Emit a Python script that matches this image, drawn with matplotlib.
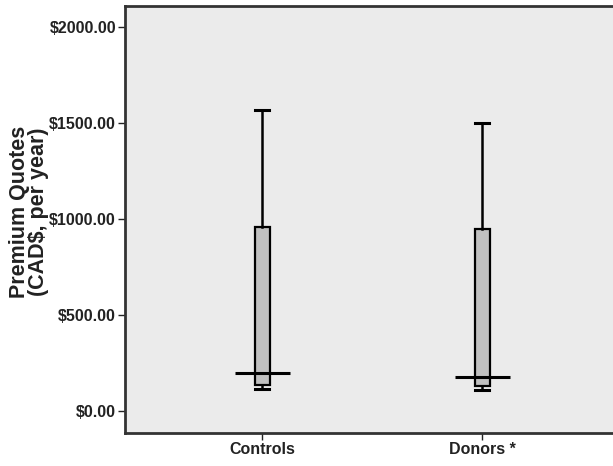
import matplotlib
matplotlib.use("Agg")
import matplotlib.pyplot as plt
from matplotlib.ticker import FuncFormatter

plt.rcParams['font.family'] = ['Liberation Sans', 'DejaVu Sans']
plt.rcParams['font.weight'] = 'bold'

groups = ['Controls', 'Donors *']
whislo = [115, 110]
q1 = [135, 130]
med = [198, 178]
q3 = [960, 950]
whishi = [1568, 1500]

stats = []
for i, g in enumerate(groups):
    stats.append(dict(label=g, whislo=whislo[i], q1=q1[i], med=med[i],
                      q3=q3[i], whishi=whishi[i], fliers=[]))

fig = plt.figure(figsize=(6.13, 4.66), dpi=100)
ax = fig.add_axes([0.204, 0.071, 0.806, 0.916])
ax.set_facecolor('#ebebeb')

pos = [1, 2]
ax.bxp(stats, positions=pos, widths=0.068, showfliers=False, patch_artist=True,
       boxprops=dict(facecolor='#c0c0c0', edgecolor='black', linewidth=1.6),
       whiskerprops=dict(color='black', linewidth=1.8),
       capprops=dict(color='black', linewidth=2.2),
       medianprops=dict(color='black', linewidth=0),
       capwidths=0.065)
ax.hlines(med, [p - 0.125 for p in pos], [p + 0.125 for p in pos],
          colors='black', linewidth=2.2, zorder=5)

ax.set_xlim(0.3773, 2.6227)
ax.set_ylim(-115, 2110)
ax.set_yticks([0, 500, 1000, 1500, 2000])
ax.yaxis.set_major_formatter(FuncFormatter(lambda v, p: '${:.2f}'.format(v)))
ax.set_xticks(pos)
ax.set_xticklabels(groups)
ax.tick_params(axis='both', direction='out', length=5, width=1, labelsize=11.5,
               colors='#222222', pad=1.5)
for s in ax.spines.values():
    s.set_linewidth(2)
    s.set_color('#333333')

fig.text(0.047, 0.545, 'Premium Quotes\n(CAD$, per year)', rotation=90,
         fontsize=15.5, fontweight='bold', linespacing=0.85, color='#222222',
         ha='center', va='center', multialignment='center')

fig.savefig('out.png', dpi=100)
